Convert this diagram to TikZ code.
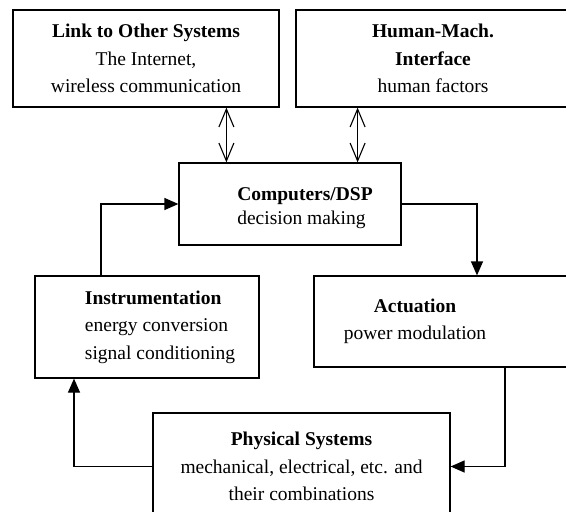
\documentclass[tikz,border=0pt]{standalone}
\usepackage{fontspec}
\setmainfont{Liberation Serif}
\usetikzlibrary{arrows.meta}

\begin{document}
\begin{tikzpicture}[x=1pt, y=-1pt,
	block/.style={draw, line width=1.2pt, rectangle, align=center, inner sep=0pt, font=\fontsize{19.5}{27.5}\selectfont},
	arr/.style={line width=1.2pt, -{Triangle[length=14pt, width=12pt]}},
	biarr/.style={line width=1.1pt, {Straight Barb[length=18pt, width=15pt]}-{Straight Barb[length=18pt, width=15pt]}}]
	\clip (0,0) rectangle (566,512);
	\node[block, minimum width=266pt, minimum height=97pt] (link) at (146,58.5) {\textbf{Link to Other Systems}\\The Internet,\\wireless communication};
	\node[block, minimum width=274pt, minimum height=97pt] (hmi) at (433,58.5) {\textbf{Human-Mach.}\\\textbf{Interface}\\human factors};
	\node[block, minimum width=222pt, minimum height=82pt, align=left, font=\fontsize{19.5}{24}\selectfont] (comp) at (290,204) {\rule{0pt}{21.5pt}\hspace*{30pt}\textbf{Computers/DSP}\\\hspace*{30pt}decision making};
	\node[block, minimum width=224pt, minimum height=102pt, align=left] (instr) at (147,327) {\hspace*{26pt}\textbf{Instrumentation}\\\hspace*{26pt}energy conversion\\\hspace*{26pt}signal conditioning};
	\node[block, minimum width=256pt, minimum height=91pt] (act) at (442,321.5) {\hspace*{-54pt}\textbf{Actuation}\\\hspace*{-54pt}power modulation};
	\node[block, minimum width=297pt, minimum height=107pt] (phys) at (301.5,466.5) {\textbf{Physical Systems}\\mechanical, electrical, etc. and\\their combinations};
	
	\coordinate (l1) at ([xshift=48pt]comp.north west);
	\coordinate (h1) at ([xshift=-44pt]comp.north east);
	\draw[biarr] (l1 |- link.south) -- (l1);
	\draw[biarr] (h1 |- hmi.south) -- (h1);
	
	\draw[arr] ([xshift=-46pt]instr.north) |- (comp.west);
	\draw[arr] (comp.east) -| ([xshift=35pt]act.north);
	\draw[arr] ([xshift=63pt]act.south) |- (phys.east);
	\draw[arr] (phys.west) -| ([xshift=-73pt]instr.south);
\end{tikzpicture}
\end{document}
